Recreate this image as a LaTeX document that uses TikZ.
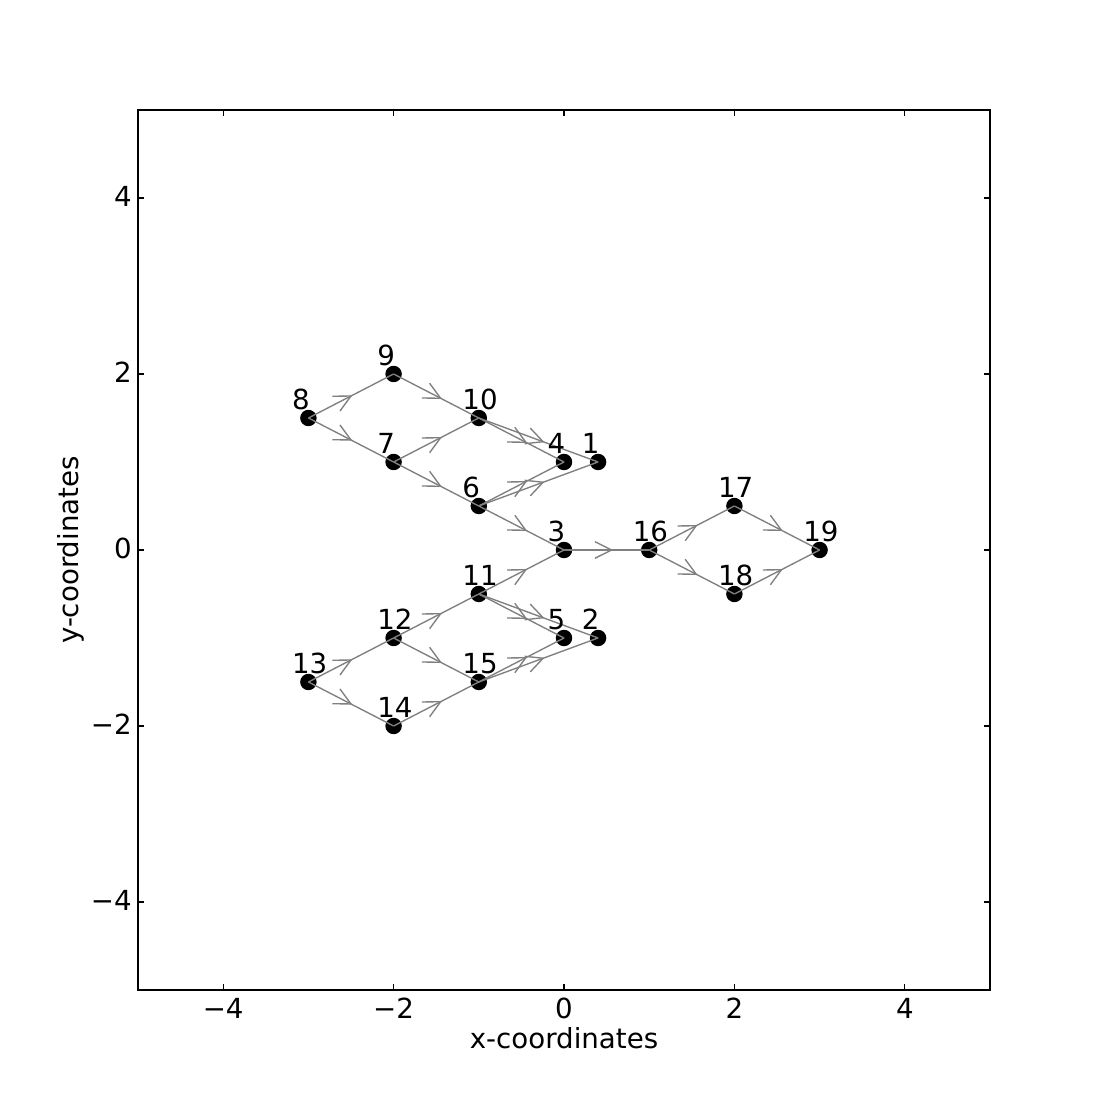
\documentclass[tikz,border=0pt]{standalone}
\usepackage{fontspec}
\setmainfont{DejaVu Sans}
\usetikzlibrary{decorations.markings}
\begin{document}
\begin{tikzpicture}[
  font=\fontsize{7.87}{9.4}\selectfont,
  dot/.style={circle, fill=black, draw=black, inner sep=0pt, minimum size=0.15cm},
  lab/.style={anchor=base west, inner sep=0pt},
  conn/.style={draw=gray, line width=0.39pt, postaction={decorate},
    decoration={markings, mark=at position 0.5 with {\draw[gray, line width=0.39pt] (#1-0.167cm,0.083cm) -- (#1,0cm) -- (#1-0.167cm,-0.083cm);}}},
  conn/.default=0.05cm,
  frame/.style={line width=0.39pt},
  tickmark/.style={line width=0.3pt},
  ticklab/.style={inner sep=0pt},
]
\useasboundingbox (0,0) rectangle (11,11);
\draw[frame] (1.38,1.10) rectangle (9.90,9.90);
\foreach \v/\t in {-4/−4,-2/−2,0/0,2/2,4/4}{
  \draw[tickmark] ({5.64+0.852*\v},1.10) -- ++(0,0.0556);
  \draw[tickmark] ({5.64+0.852*\v},9.90) -- ++(0,-0.0556);
  \draw[tickmark] (1.38,{5.50+0.88*\v}) -- ++(0.0556,0);
  \draw[tickmark] (9.90,{5.50+0.88*\v}) -- ++(-0.0556,0);
  \node[ticklab, anchor=base] at ({5.64+0.852*\v},0.815) {\t};
  \node[ticklab, anchor=base east] at (1.324,{5.50+0.88*\v-0.087}) {\t};
}
\node[ticklab, anchor=base] (xl) at (5.64,0.515) {x-coordinates};
\node[ticklab, anchor=base, rotate=90] (yl) at (0.78,5.50) {y-coordinates};
\begin{scope}[shift={(5.64,5.50)}, x=0.852cm, y=0.88cm]
  \foreach \n/\x/\y in {1/0.4/1, 2/0.4/-1, 3/0/0, 4/0/1, 5/0/-1, 6/-1/0.5, 7/-2/1, 8/-3/1.5, 9/-2/2, 10/-1/1.5, 11/-1/-0.5, 12/-2/-1, 13/-3/-1.5, 14/-2/-2, 15/-1/-1.5, 16/1/0, 17/2/0.5, 18/2/-0.5, 19/3/0}{
    \node[dot] (n\n) at (\x,\y) {};
  }
  \draw[conn=0cm] (n8.center) -- (n9.center);
  \draw[conn=0cm] (n8.center) -- (n7.center);
  \draw[conn=0cm] (n13.center) -- (n12.center);
  \draw[conn=0cm] (n13.center) -- (n14.center);
  \draw[conn] (n9.center) -- (n10.center);
  \draw[conn] (n7.center) -- (n10.center);
  \draw[conn] (n7.center) -- (n6.center);
  \draw[conn] (n10.center) -- (n4.center);
  \draw[conn] (n10.center) -- (n1.center);
  \draw[conn] (n6.center) -- (n4.center);
  \draw[conn] (n6.center) -- (n1.center);
  \draw[conn] (n6.center) -- (n3.center);
  \draw[conn] (n3.center) -- (n16.center);
  \draw[conn] (n16.center) -- (n17.center);
  \draw[conn] (n16.center) -- (n18.center);
  \draw[conn] (n17.center) -- (n19.center);
  \draw[conn] (n18.center) -- (n19.center);
  \draw[conn] (n11.center) -- (n3.center);
  \draw[conn] (n12.center) -- (n11.center);
  \draw[conn] (n12.center) -- (n15.center);
  \draw[conn] (n14.center) -- (n15.center);
  \draw[conn] (n11.center) -- (n5.center);
  \draw[conn] (n11.center) -- (n2.center);
  \draw[conn] (n15.center) -- (n5.center);
  \draw[conn] (n15.center) -- (n2.center);
  \foreach \n/\x/\y in {1/0.4/1, 2/0.4/-1, 3/0/0, 4/0/1, 5/0/-1, 6/-1/0.5, 7/-2/1, 8/-3/1.5, 9/-2/2, 10/-1/1.5, 11/-1/-0.5, 12/-2/-1, 13/-3/-1.5, 14/-2/-2, 15/-1/-1.5, 16/1/0, 17/2/0.5, 18/2/-0.5, 19/3/0}{
    \node[lab] (t\n) at (\x-0.2,\y+0.1) {\n};
  }
\end{scope}
\end{tikzpicture}
\end{document}
